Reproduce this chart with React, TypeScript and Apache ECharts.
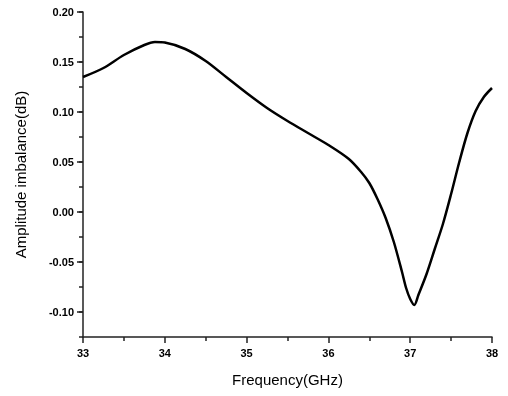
import React, { useEffect, useRef } from "react";
import * as echarts from "echarts";

const freq = [33.0, 33.25, 33.5, 33.75, 33.88, 34.0, 34.25, 34.5, 34.75, 35.0, 35.25, 35.5, 35.75, 36.0, 36.25, 36.4, 36.5, 36.6, 36.7, 36.8, 36.9, 36.95, 37.0, 37.05, 37.1, 37.2, 37.3, 37.4, 37.5, 37.6, 37.7, 37.8, 37.9, 38.0];
const imbalance = [0.135, 0.144, 0.157, 0.167, 0.17, 0.1695, 0.163, 0.151, 0.135, 0.119, 0.104, 0.091, 0.079, 0.067, 0.053, 0.04, 0.029, 0.013, -0.006, -0.03, -0.06, -0.076, -0.087, -0.093, -0.083, -0.062, -0.037, -0.012, 0.018, 0.05, 0.079, 0.101, 0.115, 0.124];
const yTicks = [-0.1, -0.05, 0, 0.05, 0.1, 0.15, 0.2];

export default function App() {
  const ref = useRef<HTMLDivElement>(null);
  useEffect(() => {
    if (!ref.current) return;
    const chart = echarts.init(ref.current, undefined, { renderer: "svg" });
    const axisColor = "#222";
    const font = "Liberation Sans";
    chart.setOption({
      animation: false,
      grid: { left: 83, right: 16, top: 12, bottom: 59 },
      xAxis: {
        type: "value",
        min: 33,
        max: 38,
        interval: 1,
        name: "Frequency(GHz)",
        nameLocation: "middle",
        nameGap: 35,
        nameTextStyle: { fontFamily: font, fontSize: 15, color: "#000" },
        axisLine: { show: true, onZero: false, lineStyle: { color: axisColor, width: 1.5 } },
        axisTick: { show: true, inside: false, length: 6, lineStyle: { color: axisColor, width: 1.5 } },
        minorTick: { show: true, splitNumber: 2, length: 4, lineStyle: { color: axisColor, width: 1.5 } },
        splitLine: { show: false },
        axisLabel: { fontFamily: font, fontWeight: "bold", fontSize: 11, color: "#000", margin: 10 },
      },
      yAxis: [
        {
          type: "value",
          min: -0.125,
          max: 0.2,
          interval: 0.025,
          name: "Amplitude imbalance(dB)",
          nameLocation: "middle",
          nameGap: 55,
          nameTextStyle: { fontFamily: font, fontSize: 15, color: "#000" },
          axisLine: { show: true, onZero: false, lineStyle: { color: axisColor, width: 1.5 } },
          axisTick: { show: true, inside: false, length: 6, customValues: yTicks, lineStyle: { color: axisColor, width: 1.5 } },
          splitLine: { show: false },
          axisLabel: {
            fontFamily: font,
            fontWeight: "bold",
            fontSize: 11,
            color: "#000",
            margin: 9,
            customValues: yTicks,
            formatter: (v: number) => v.toFixed(2),
          },
        },
        {
          type: "value",
          position: "left",
          offset: 0,
          min: -0.125,
          max: 0.2,
          interval: 0.025,
          axisLine: { show: false },
          axisTick: { show: true, inside: false, length: 4, lineStyle: { color: axisColor, width: 1.5 } },
          axisLabel: { show: false },
          splitLine: { show: false },
        },
      ],
      series: [
        {
          type: "line",
          data: freq.map((f, i) => [f, imbalance[i]]),
          smooth: 0.3,
          showSymbol: false,
          lineStyle: { color: "#000", width: 2.5 },
        },
      ],
    });
    return () => chart.dispose();
  }, []);
  return <div ref={ref} style={{ position: "fixed", left: 0, top: 0, width: 508, height: 396 }} />;
}
